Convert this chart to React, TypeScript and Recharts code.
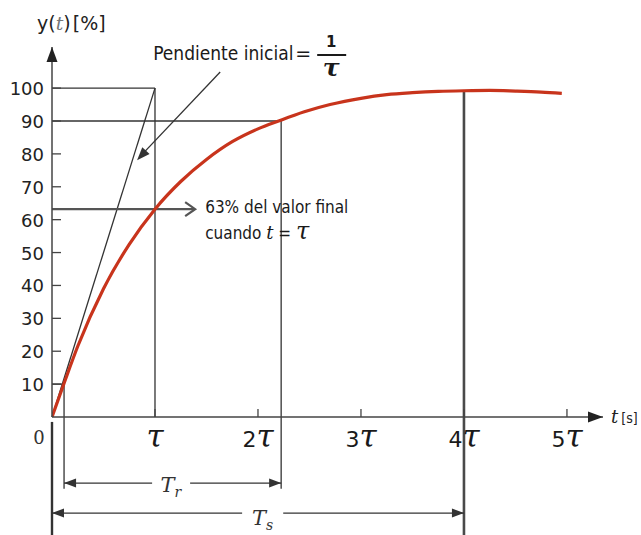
import React from "react";
import {
  LineChart,
  Line,
  XAxis,
  YAxis,
  ReferenceLine,
  ReferenceDot,
} from "recharts";

// Respuesta al escalón de un sistema de primer orden (t en múltiplos de τ)
const tValues = [
  0, 0.12, 0.25, 0.5, 0.75, 1.0, 1.25, 1.5, 1.75, 2.0, 2.2, 2.45, 2.7, 3.0,
  3.25, 3.5, 3.75, 4.0, 4.25, 4.5, 4.75, 4.95,
];
const yValues = [
  0, 10.5, 21.5, 39, 52.5, 63.2, 71.6, 78.3, 83.7, 87.6, 90, 92.8, 95, 96.9,
  98, 98.6, 99, 99.2, 99.3, 99.1, 98.8, 98.4,
];
const curve = tValues.map((t, i) => ({ t, y: yValues[i] }));

const tauTicks = [1, 2, 3, 4, 5];
const tauCoef = ["", "2", "3", "4", "5"];
const percentTicks = [10, 20, 30, 40, 50, 60, 70, 80, 90, 100];

// Marcas de la construcción
const tau = 1;
const tenPct = 10;
const ninetyPct = 90;
const finalPct = 100;
const atTau = 63.2;
const t10 = 0.117;
const t90 = 2.225;
const tSettle = 4;
const ySettle = 99.2;
const yTr = -20.1;
const yTs = -29.2;
const yBottom = -36;
const xMax = 5.35;
const yMax = 112.5;

const INK = "#333";
const AXIS = "#444";
const RED = "#c8341c";
const SANS = "'DejaVu Sans Condensed', 'DejaVu Sans', sans-serif";
const SANS_W = "'DejaVu Sans', sans-serif";
const SERIF = "'DejaVu Serif', serif";

function Head(props: any) {
  const { cx, cy, angle = 0, len = 12, half = 4.5, fill = INK, open = false } = props;
  const rad = (angle * Math.PI) / 180;
  const bx = cx - len * Math.cos(rad);
  const by = cy - len * Math.sin(rad);
  const px = -Math.sin(rad) * half;
  const py = Math.cos(rad) * half;
  if (open) {
    return (
      <polyline
        points={`${bx + px},${by + py} ${cx},${cy} ${bx - px},${by - py}`}
        fill="none"
        stroke={fill}
        strokeWidth={2.2}
      />
    );
  }
  return (
    <polygon
      points={`${cx},${cy} ${bx + px},${by + py} ${bx - px},${by - py}`}
      fill={fill}
    />
  );
}

const head = (x: number, y: number, angle: number, extra: any = {}) => (
  <ReferenceDot
    x={x}
    y={y}
    r={0}
    ifOverflow="visible"
    shape={(p: any) => <Head cx={p.cx} cy={p.cy} angle={angle} {...extra} />}
  />
);

const note = (x: number, y: number, draw: (cx: number, cy: number) => React.ReactNode) => (
  <ReferenceDot
    x={x}
    y={y}
    r={0}
    ifOverflow="visible"
    shape={(p: any) => <g>{draw(p.cx, p.cy)}</g>}
  />
);

const seg = (x1: number, y1: number, x2: number, y2: number, stroke = INK, w = 1.3) => (
  <ReferenceLine
    segment={[
      { x: x1, y: y1 },
      { x: x2, y: y2 },
    ]}
    stroke={stroke}
    strokeWidth={w}
    ifOverflow="visible"
  />
);

function PercentTick({ x, y, payload }: any) {
  return (
    <g>
      <line x1={x} x2={x + 9} y1={y} y2={y} stroke={AXIS} strokeWidth={1.3} />
      <text x={x - 8} y={y + 7} textAnchor="end" fontFamily={SANS_W} fontSize={18} fill="#222">
        {payload.value}
      </text>
    </g>
  );
}

function TauTick({ x, y, index }: any) {
  return (
    <g>
      <line x1={x} x2={x} y1={y} y2={y - 8} stroke={AXIS} strokeWidth={1.3} />
      <text x={x} y={y + 30} textAnchor="middle" fill="#1a1a1a">
        <tspan fontFamily={SANS_W} fontSize={22}>
          {tauCoef[index] ?? ""}
        </tspan>
        <tspan fontFamily={SERIF} fontStyle="italic" fontSize={31}>
          τ
        </tspan>
      </text>
    </g>
  );
}

export default function App() {
  return (
    <div style={{ position: "absolute", left: 0, top: 0, width: 641, height: 535, background: "#fff" }}>
      <LineChart
        width={641}
        height={535}
        data={curve}
        margin={{ top: 47, right: 38, bottom: 88, left: 0 }}
      >
        <XAxis
          dataKey="t"
          type="number"
          domain={[0, xMax]}
          ticks={tauTicks}
          allowDataOverflow
          height={30}
          tickSize={0}
          tickMargin={0}
          tickLine={false}
          axisLine={{ stroke: AXIS, strokeWidth: 1.5 }}
          tick={<TauTick />}
        />
        <YAxis
          type="number"
          domain={[0, yMax]}
          ticks={percentTicks}
          allowDataOverflow
          width={52}
          tickSize={0}
          tickMargin={0}
          tickLine={false}
          axisLine={{ stroke: AXIS, strokeWidth: 1.5 }}
          tick={<PercentTick />}
        />

        {/* pendiente inicial y valor final */}
        {seg(0, finalPct, tau, finalPct)}
        {seg(tau, finalPct, tau, 0)}
        {seg(0, 0, tau, finalPct)}
        {seg(0, ninetyPct, t90, ninetyPct)}
        {seg(t90, ninetyPct, t90, yTr - 1.7)}
        {seg(0, tenPct, t10, tenPct)}
        {seg(t10, tenPct, t10, yTr - 1.7)}

        {/* tiempo de establecimiento y eje prolongado */}
        {seg(tSettle, ySettle, tSettle, yBottom, "#4a4a4a", 2.6)}
        {seg(0, -1.5, 0, yBottom, INK, 2.4)}

        {/* cotas Tr y Ts */}
        {seg(t10, yTr, 0.972, yTr)}
        {seg(1.341, yTr, t90, yTr)}
        {head(t10, yTr, 180)}
        {head(t90, yTr, 0)}
        {seg(0, yTs, 1.846, yTs)}
        {seg(2.245, yTs, tSettle, yTs)}
        {head(0, yTs, 180)}
        {head(tSettle, yTs, 0)}

        {/* flechas de los ejes */}
        {head(xMax, 0, 0, { len: 15, half: 5.5, fill: "#222" })}
        {head(0, yMax, -90, { len: 15, half: 5.5, fill: "#222" })}

        {/* flecha hacia la pendiente */}
        {seg(1.633, 104.9, 0.85, 79)}
        {head(0.826, 78.1, 133, { len: 13, half: 5 })}

        {/* flecha del 63 % */}
        {seg(0, atTau, 1.38, atTau, "#555", 2.2)}
        {head(1.39, atTau, 0, { len: 10, half: 7, open: true, fill: "#555" })}

        <Line
          type="monotone"
          dataKey="y"
          stroke={RED}
          strokeWidth={3.2}
          dot={false}
          isAnimationActive={false}
        />

        {/* textos */}
        {note(0, yMax, (cx, cy) => (
          <text x={cx - 15} y={cy - 17} fill="#222" fontFamily={SANS_W} fontSize={19}>
            y(
            <tspan fontFamily={SERIF} fontStyle="italic" fill="#777">
              t
            </tspan>
            )
            <tspan dx={2}>[%]</tspan>
          </text>
        ))}
        {note(0, 0, (cx, cy) => (
          <text x={cx - 13} y={cy + 27} textAnchor="middle" fill="#333" fontFamily={SERIF} fontSize={18}>
            0
          </text>
        ))}
        {note(xMax, 0, (cx, cy) => (
          <text x={cx + 8} y={cy + 6} fill="#222">
            <tspan fontFamily={SERIF} fontStyle="italic" fontSize={18}>
              t
            </tspan>
            <tspan fontFamily={SANS} fontSize={14} dx={3}>
              [s]
            </tspan>
          </text>
        ))}
        {note(1.633, 104.9, (cx, cy) => (
          <g fill="#1a1a1a">
            <text x={cx - 67} y={cy - 12} fontFamily={SANS} fontSize={19}>
              Pendiente inicial
            </text>
            <text x={cx + 75} y={cy - 12} fontFamily={SANS_W} fontSize={19}>
              =
            </text>
            <text x={cx + 111} y={cy - 25} textAnchor="middle" fontFamily={SANS_W} fontWeight="bold" fontSize={15}>
              1
            </text>
            <line x1={cx + 97} x2={cx + 126} y1={cy - 17} y2={cy - 17} stroke="#1a1a1a" strokeWidth={2} />
            <text x={cx + 111} y={cy + 4} textAnchor="middle" fontFamily={SERIF} fontStyle="italic" fontWeight="bold" fontSize={25}>
              τ
            </text>
          </g>
        ))}
        {note(1.39, atTau, (cx, cy) => (
          <g fill="#1a1a1a">
            <text x={cx + 10} y={cy + 4} fontFamily={SANS} fontSize={17}>
              63% del valor final
            </text>
            <text x={cx + 10} y={cy + 30} fontFamily={SANS} fontSize={17}>
              cuando{" "}
              <tspan fontFamily={SERIF} fontStyle="italic" fontSize={18}>
                t
              </tspan>{" "}
              ={" "}
              <tspan fontFamily={SERIF} fontStyle="italic" fontSize={24}>
                τ
              </tspan>
            </text>
          </g>
        ))}
        {note(1.155, yTr, (cx, cy) => (
          <text x={cx} y={cy + 9} textAnchor="middle" fill="#333">
            <tspan fontFamily={SERIF} fontStyle="italic" fontSize={21}>
              T
            </tspan>
            <tspan fontFamily={SERIF} fontStyle="italic" fontSize={14} dy={5}>
              r
            </tspan>
          </text>
        ))}
        {note(2.045, yTs, (cx, cy) => (
          <text x={cx} y={cy + 12} textAnchor="middle" fill="#333">
            <tspan fontFamily={SERIF} fontStyle="italic" fontSize={21}>
              T
            </tspan>
            <tspan fontFamily={SERIF} fontStyle="italic" fontSize={14} dy={5}>
              s
            </tspan>
          </text>
        ))}
      </LineChart>
    </div>
  );
}
